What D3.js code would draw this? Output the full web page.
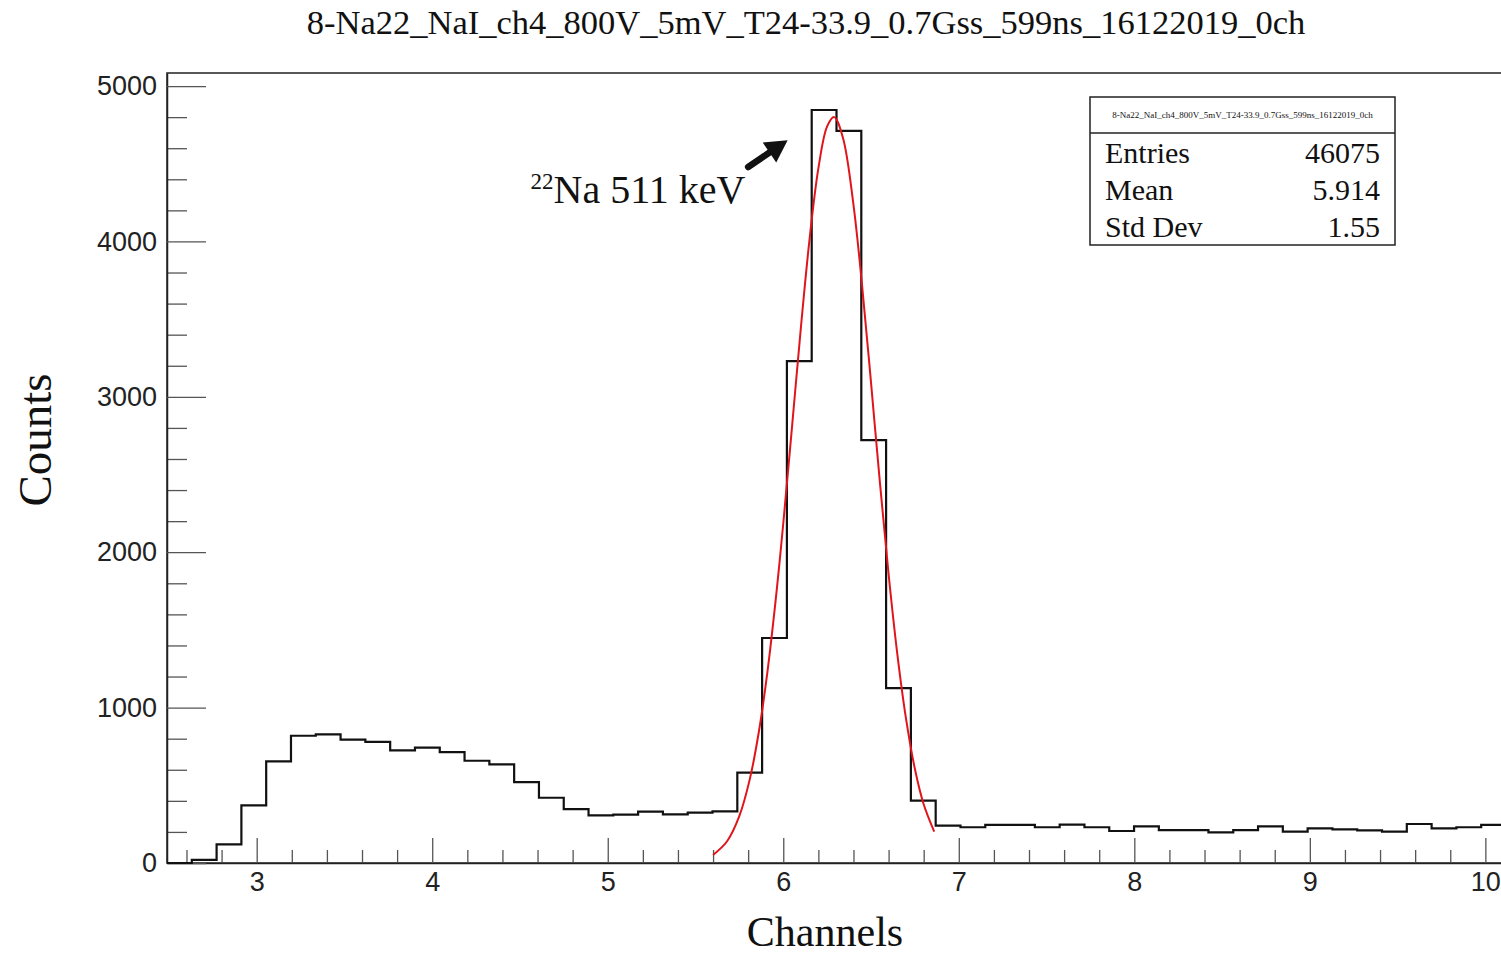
<!DOCTYPE html>
<html>
<head>
<meta charset="utf-8">
<script src="https://cdn.jsdelivr.net/npm/d3@7"></script>
<style>
  body { margin: 0; background: #fff; }
  svg { display: block; }
  .tick text { font-family: 'Liberation Sans', Arial, sans-serif; font-size: 27px; fill: #222; }
  .serif { font-family: 'Liberation Serif', 'Times New Roman', serif; fill: #111; }
</style>
</head>
<body>
<div id="chart"></div>
<script>
// Data
// histogram binning
const binStart = 2.489;
const binWidth = 0.14127;
// counts per bin, left to right
const binCounts = [
  0, 20, 120, 371, 654, 819, 828, 794, 779, 725,
  742, 714, 658, 635, 521, 420, 347, 307, 311, 330,
  313, 324, 332, 581, 1448, 3230, 4846, 4712, 2722, 1126,
  401, 240, 230, 245, 245, 230, 247, 230, 206, 236,
  212, 212, 197, 212, 236, 202, 223, 217, 210, 202,
  251, 223, 230, 245,
];
// red fit curve
const fitX = [5.60, 5.68, 5.75, 5.81, 5.86, 5.91, 5.96, 6.00, 6.05, 6.10, 6.15, 6.20, 6.25,
  6.29, 6.34, 6.40, 6.45, 6.50, 6.55, 6.60, 6.65, 6.70, 6.75, 6.80, 6.86];
const fitY = [52, 140, 303, 543, 838, 1232, 1727, 2185, 2808, 3441, 4017, 4470, 4740,
  4800, 4667, 4236, 3705, 3091, 2456, 1860, 1343, 924, 605, 378, 202];

const xMajorTicks = [3, 4, 5, 6, 7, 8, 9, 10];
const xMinorTicks = [2.6, 2.8, 3.2, 3.4, 3.6, 3.8, 4.2, 4.4, 4.6, 4.8, 5.2, 5.4, 5.6, 5.8,
  6.2, 6.4, 6.6, 6.8, 7.2, 7.4, 7.6, 7.8, 8.2, 8.4, 8.6, 8.8, 9.2, 9.4, 9.6, 9.8];
const yMajorTicks = [0, 1000, 2000, 3000, 4000, 5000];
const yMinorTicks = [200, 400, 600, 800, 1200, 1400, 1600, 1800, 2200, 2400, 2600, 2800,
  3200, 3400, 3600, 3800, 4200, 4400, 4600, 4800];

const title = '8-Na22_NaI_ch4_800V_5mV_T24-33.9_0.7Gss_599ns_16122019_0ch';
const statsLabels = ['Entries', 'Mean', 'Std Dev'];
const statsValues = ['46075', '5.914', '1.55'];

// Layout
const W = 1501;
const H = 958;
const frame = { l: 167, t: 73, r: 1506, b: 863 };

const svg = d3
  .select('#chart')
  .append('svg')
  .attr('width', W)
  .attr('height', H);

const xMax = binStart + binCounts.length * binWidth;
const x = d3.scaleLinear([binStart, xMax], [frame.l, frame.r]);
const y = d3.scaleLinear([0, 5084], [frame.b, frame.t]);

// frame
svg
  .append('rect')
  .attr('x', frame.l)
  .attr('y', frame.t)
  .attr('width', frame.r - frame.l)
  .attr('height', frame.b - frame.t)
  .attr('fill', 'none')
  .attr('stroke', '#222')
  .attr('stroke-width', 1.5);

// x axis: minor then major ticks (pointing inward)
svg
  .append('g')
  .attr('transform', `translate(0, ${frame.b})`)
  .call(d3.axisBottom(x).tickValues(xMinorTicks).tickSize(-13).tickSizeOuter(0).tickFormat(''))
  .call((g) => g.select('.domain').remove())
  .selectAll('line')
  .attr('stroke', '#555')
  .attr('stroke-width', 1.3);

svg
  .append('g')
  .attr('transform', `translate(0, ${frame.b})`)
  .call(d3.axisBottom(x).tickValues(xMajorTicks).tickSize(-25).tickSizeOuter(0).tickPadding(9).tickFormat(d3.format('d')))
  .call((g) => g.select('.domain').attr('stroke', '#222').attr('stroke-width', 1.5))
  .selectAll('line')
  .attr('stroke', '#555')
  .attr('stroke-width', 1.3);

// y axis
svg
  .append('g')
  .attr('transform', `translate(${frame.l}, 0)`)
  .call(d3.axisLeft(y).tickValues(yMinorTicks).tickSize(-20).tickSizeOuter(0).tickFormat(''))
  .call((g) => g.select('.domain').remove())
  .selectAll('line')
  .attr('stroke', '#555')
  .attr('stroke-width', 1.3);

svg
  .append('g')
  .attr('transform', `translate(${frame.l}, 0)`)
  .call(d3.axisLeft(y).tickValues(yMajorTicks).tickSize(-39).tickSizeOuter(0).tickPadding(10).tickFormat(d3.format('d')))
  .call((g) => g.select('.domain').attr('stroke', '#222').attr('stroke-width', 1.5))
  .selectAll('line')
  .attr('stroke', '#555')
  .attr('stroke-width', 1.3);

// histogram as a step line
const steps = binCounts.map((v, i) => [binStart + i * binWidth, v]);
steps.push([xMax, binCounts[binCounts.length - 1]]);

const stepLine = d3
  .line()
  .x((d) => x(d[0]))
  .y((d) => y(d[1]))
  .curve(d3.curveStepAfter);

svg
  .append('path')
  .datum(steps)
  .attr('d', stepLine)
  .attr('fill', 'none')
  .attr('stroke', '#111')
  .attr('stroke-width', 2.2);

// gaussian fit (red)
const fitLine = d3
  .line()
  .x((d, i) => x(fitX[i]))
  .y((d) => y(d))
  .curve(d3.curveCatmullRom);

svg
  .append('path')
  .datum(fitY)
  .attr('d', fitLine)
  .attr('fill', 'none')
  .attr('stroke', '#e0151b')
  .attr('stroke-width', 2);

// title
svg
  .append('text')
  .attr('class', 'serif')
  .attr('x', 806)
  .attr('y', 34)
  .attr('text-anchor', 'middle')
  .style('font-size', '34.5px')
  .text(title);

// axis names
svg
  .append('text')
  .attr('class', 'serif')
  .attr('x', 825)
  .attr('y', 946)
  .attr('text-anchor', 'middle')
  .style('font-size', '42px')
  .text('Channels');

svg
  .append('text')
  .attr('class', 'serif')
  .attr('transform', 'translate(51, 440) rotate(-90)')
  .attr('text-anchor', 'middle')
  .style('font-size', '47px')
  .text('Counts');

// annotation for the photopeak
const label = svg
  .append('text')
  .attr('class', 'serif')
  .attr('x', x(4.56))
  .attr('y', y(4247))
  .style('font-size', '40px');
label.append('tspan').attr('dy', -14).style('font-size', '23px').text('22');
label.append('tspan').attr('dy', 14).text('Na 511 keV');

const tail = [x(5.80), y(4479)];
const tip = [x(6.025), y(4652)];
const ang = Math.atan2(tip[1] - tail[1], tip[0] - tail[0]);
const headLen = 22;
const headW = 12;
const base = [tip[0] - headLen * Math.cos(ang), tip[1] - headLen * Math.sin(ang)];
svg
  .append('line')
  .attr('x1', tail[0])
  .attr('y1', tail[1])
  .attr('x2', base[0])
  .attr('y2', base[1])
  .attr('stroke', '#111')
  .attr('stroke-width', 6.5)
  .attr('stroke-linecap', 'round');
svg
  .append('path')
  .attr('d', d3.line()([
    tip,
    [base[0] + headW * Math.sin(ang), base[1] - headW * Math.cos(ang)],
    [base[0] - headW * Math.sin(ang), base[1] + headW * Math.cos(ang)],
  ]) + 'Z')
  .attr('fill', '#111');

// stats box
const box = { x: 1090, y: 97, w: 305, h: 148, head: 36 };
const stats = svg.append('g');
stats
  .append('rect')
  .attr('x', box.x)
  .attr('y', box.y)
  .attr('width', box.w)
  .attr('height', box.h)
  .attr('fill', '#fff')
  .attr('stroke', '#222')
  .attr('stroke-width', 1.5);
stats
  .append('line')
  .attr('x1', box.x)
  .attr('x2', box.x + box.w)
  .attr('y1', box.y + box.head)
  .attr('y2', box.y + box.head)
  .attr('stroke', '#222')
  .attr('stroke-width', 1.5);
stats
  .append('text')
  .attr('class', 'serif')
  .attr('x', box.x + box.w / 2)
  .attr('y', box.y + 21)
  .attr('text-anchor', 'middle')
  .style('font-size', '9px')
  .text(title);
stats
  .selectAll('.lab')
  .data(statsLabels)
  .join('text')
  .attr('class', 'serif lab')
  .attr('x', box.x + 15)
  .attr('y', (d, i) => box.y + 66 + i * 37)
  .style('font-size', '30px')
  .text((d) => d);
stats
  .selectAll('.val')
  .data(statsValues)
  .join('text')
  .attr('class', 'serif val')
  .attr('x', box.x + box.w - 15)
  .attr('y', (d, i) => box.y + 66 + i * 37)
  .attr('text-anchor', 'end')
  .style('font-size', '30px')
  .text((d) => d);
</script>
</body>
</html>
